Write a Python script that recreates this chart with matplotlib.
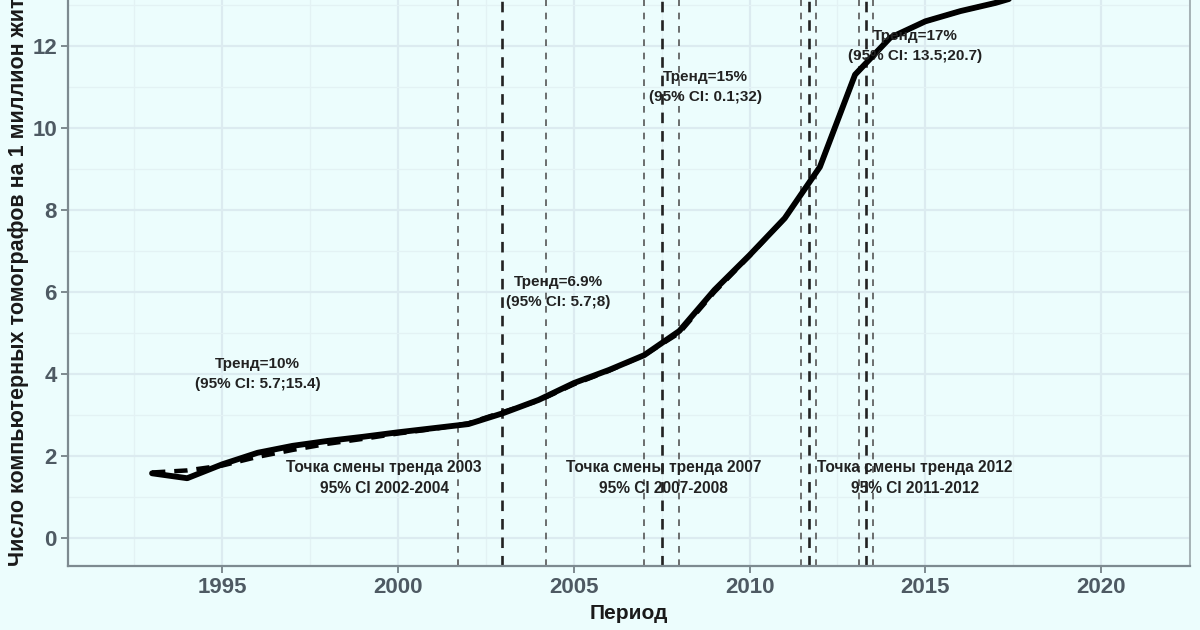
import matplotlib
matplotlib.use("Agg")
import matplotlib.pyplot as plt
from matplotlib.ticker import MultipleLocator

plt.rcParams['font.family'] = ['Liberation Sans', 'DejaVu Sans']

# ------------------ DATA ------------------
years = list(range(1993, 2019))
observed = [1.58, 1.46, 1.80, 2.08, 2.25, 2.37, 2.47, 2.58, 2.68, 2.78,
            3.05, 3.37, 3.78, 4.10, 4.46, 5.05, 6.05, 6.90, 7.80, 9.05,
            11.30, 12.20, 12.60, 12.85, 13.05, 13.30]
fitted = [1.60, 1.65, 1.77, 1.98, 2.15, 2.30, 2.42, 2.55, 2.66, 2.80,
          3.08, 3.35, 3.75, 4.08, 4.46, 5.00, 6.00, 6.88, 7.80, 9.05,
          11.30, 12.20, 12.60, 12.85, 13.05, 13.30]

# change points (dark) and their CI bounds (light)
cp_dark = [2002.95, 2007.5, 2011.7, 2013.3]
cp_light = [2001.7, 2004.2, 2007.0, 2008.0, 2011.45, 2011.9, 2013.1, 2013.5]

trend_labels = ["Тренд=10%\n(95% CI: 5.7;15.4)",
                "Тренд=6.9%\n(95% CI: 5.7;8)",
                "Тренд=15%\n(95% CI: 0.1;32)",
                "Тренд=17%\n(95% CI: 13.5;20.7)"]
trend_x = [1996.0, 2004.55, 2008.75, 2014.7]
trend_y = [4.0, 6.0, 11.0, 12.0]

cp_labels = ["Точка смены тренда 2003\n95% CI 2002-2004",
             "Точка смены тренда 2007\n95% CI 2007-2008",
             "Точка смены тренда 2012\n95% CI 2011-2012"]
cp_label_x = [1999.6, 2007.55, 2014.7]
cp_label_y = [1.46, 1.46, 1.46]

# ------------------ PLOT ------------------
bg = "#ecfdfd"
fig = plt.figure(figsize=(12, 6.3), dpi=100)
fig.patch.set_facecolor(bg)
ax = fig.add_axes([0.0567, 0.1016, 0.935, 0.8984])
ax.set_facecolor(bg)

ax.set_xlim(1990.61, 2022.53)
ax.set_ylim(-0.68, 13.12)

ax.xaxis.set_major_locator(MultipleLocator(5))
ax.xaxis.set_minor_locator(MultipleLocator(2.5))
ax.yaxis.set_major_locator(MultipleLocator(2))
ax.yaxis.set_minor_locator(MultipleLocator(1))
ax.grid(which='major', color="#dcebf0", lw=1.6)
ax.grid(which='minor', color="#e3f2f4", lw=0.9)
ax.set_axisbelow(True)

for x in cp_light:
    ax.axvline(x, color="#555555", lw=1.2, ls=(0, (4, 4)), zorder=2)
for x in cp_dark:
    ax.axvline(x, color="#222222", lw=1.9, ls=(0, (4, 3)), zorder=2)

ax.plot(years, observed, color="black", lw=4.2, solid_capstyle='round',
        solid_joinstyle='round', zorder=4)
ax.plot(years, fitted, color="black", lw=3.2, ls=(0, (3, 2)), zorder=3)

for t, x, y in zip(trend_labels, trend_x, trend_y):
    ax.text(x, y, t, ha='center', va='center', fontsize=11,
            fontweight='bold', color="#222222", linespacing=1.5, zorder=5)
for t, x, y in zip(cp_labels, cp_label_x, cp_label_y):
    ax.text(x, y, t, ha='center', va='center', fontsize=11.2,
            fontweight='bold', color="#222222", linespacing=1.5, zorder=5)

ax.spines['top'].set_visible(False)
ax.spines['right'].set_color("#9aa6aa")
ax.spines['right'].set_linewidth(1.2)
for s in ['left', 'bottom']:
    ax.spines[s].set_color("#7d8a90")
    ax.spines[s].set_linewidth(1.6)

ax.tick_params(axis='both', which='major', labelsize=16, colors="#7d8a90",
               length=5, width=1.4, labelcolor="#4e5a63", pad=3)
ax.tick_params(axis='both', which='minor', length=0)
for lab in ax.get_xticklabels() + ax.get_yticklabels():
    lab.set_fontweight('bold')

ax.set_xlabel("Период", fontsize=15, fontweight='bold', color="#1a1a1a", labelpad=4)
fig.text(18 / 1200, (630 - 566) / 630,
         "Число компьютерных томографов на 1 миллион жителей",
         rotation=90, ha='center', va='bottom', fontsize=15.5,
         fontweight='bold', color="#1a1a1a")

fig.savefig("out.png", dpi=100, facecolor=bg)
